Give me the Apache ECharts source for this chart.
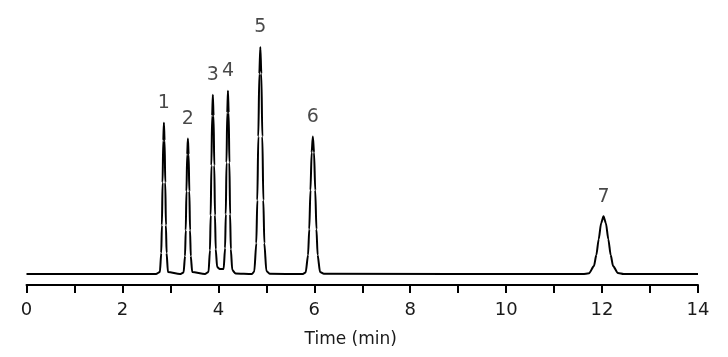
<!DOCTYPE html>
<html>
<head>
<meta charset="utf-8">
<script src="https://cdn.jsdelivr.net/npm/echarts@6/dist/echarts.min.js"></script>
<style>
html,body{margin:0;padding:0;background:#fff;}
#c{width:728px;height:357px;}
</style>
</head>
<body>
<div id="c"></div>
<script>
// Chromatogram trace: [time (min), signal]
const traceTime = [
  0, 2.70,
  2.781, 2.809, 2.823, 2.837, 2.851, 2.865, 2.879, 2.893, 2.907, 2.921, 2.949,
  3.20,
  3.275, 3.305, 3.320, 3.335, 3.350, 3.365, 3.380, 3.395, 3.410, 3.425, 3.455,
  3.72,
  3.795, 3.825, 3.840, 3.855, 3.870, 3.885, 3.900, 3.915, 3.930, 3.945, 3.975,
  4.03,
  4.11, 4.14, 4.155, 4.17, 4.185, 4.20, 4.215, 4.23, 4.245, 4.26, 4.29, 4.36,
  4.70,
  4.749, 4.791, 4.812, 4.833, 4.854, 4.875, 4.896, 4.917, 4.938, 4.959, 5.001, 5.07,
  5.75,
  5.82, 5.87, 5.895, 5.92, 5.945, 5.97, 5.995, 6.02, 6.045, 6.07, 6.12, 6.20,
  11.60,
  11.73, 11.83, 11.88, 11.93, 11.98, 12.03, 12.08, 12.13, 12.18, 12.23, 12.33, 12.45,
  14
];
const traceSignal = [
  11, 11,
  13, 32, 60, 103, 145, 163, 145, 103, 60, 32, 13,
  11,
  12.5, 29, 55, 94, 131, 147, 131, 94, 55, 29, 13,
  11,
  13, 35, 70, 120, 170, 191, 170, 120, 70, 36, 18,
  16,
  16, 37, 71, 123, 173, 195, 173, 123, 71, 36, 15, 11.5,
  11,
  13.5, 42, 85, 149, 212, 239, 212, 149, 85, 42, 14, 11.3,
  11,
  12.5, 30, 56, 95, 133, 149, 133, 95, 56, 30, 13, 11.2,
  11,
  11.8, 19, 30, 46, 62, 69, 62, 46, 30, 19, 12, 11,
  11
];
// Peak labels
const peakNames = ['1', '2', '3', '4', '5', '6', '7'];
const peakTimes = [2.865, 3.365, 3.885, 4.20, 4.875, 5.97, 12.03];
const peakTops = [163, 147, 191, 195, 239, 149, 69];
// x axis
const xMin = 0, xMax = 14;
const xLabelValues = [0, 2, 4, 6, 8, 10, 12, 14];
const xTitle = 'Time (min)';

const trace = traceTime.map((t, i) => [t, traceSignal[i]]);
const peaks = peakTimes.map((t, i) => ({ name: peakNames[i], value: [t, peakTops[i]] }));

const chart = echarts.init(document.getElementById('c'), null, { renderer: 'canvas' });
const font = '"DejaVu Sans", Verdana, sans-serif';
chart.setOption({
  backgroundColor: '#fff',
  animation: false,
  grid: { left: 26.5, right: 30, top: 26, bottom: 72 },
  xAxis: {
    type: 'value', min: xMin, max: xMax, interval: 1,
    name: xTitle, nameLocation: 'middle', nameGap: 46,
    nameTextStyle: { fontFamily: font, fontSize: 17, color: '#1a1a1a', padding: [0, 23, 0, 0] },
    axisLine: { show: true, lineStyle: { color: '#000', width: 2 } },
    axisTick: { show: true, inside: false, length: 8, lineStyle: { color: '#000', width: 2 } },
    axisLabel: {
      margin: 16, fontFamily: font, fontSize: 18, color: '#1a1a1a',
      formatter: v => (xLabelValues.indexOf(v) >= 0 ? String(v) : '')
    },
    splitLine: { show: false }
  },
  yAxis: { type: 'value', min: 0, max: 260, show: false, splitLine: { show: false } },
  series: [
    {
      type: 'line', data: trace, showSymbol: false, smooth: 0.25, smoothMonotone: 'x',
      lineStyle: { color: '#000', width: 2 }, silent: true
    },
    {
      type: 'scatter', data: peaks, symbolSize: 0, silent: true,
      label: {
        show: true, position: 'top', distance: 10, formatter: p => p.name,
        fontFamily: font, fontSize: 19, color: '#1a1a1a'
      }
    }
  ]
});
</script>
</body>
</html>
